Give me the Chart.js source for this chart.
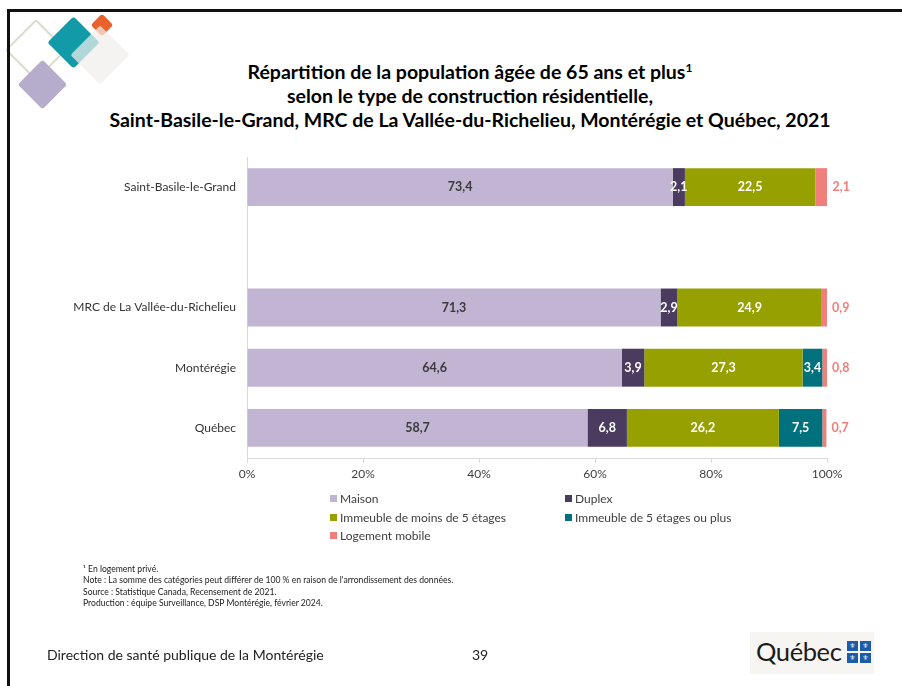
<!DOCTYPE html>
<html lang="fr">
<head>
<meta charset="utf-8">
<title>Répartition de la population âgée de 65 ans et plus selon le type de construction résidentielle</title>
<script src="https://cdn.jsdelivr.net/npm/chart.js@4.4.1/dist/chart.umd.min.js"></script>
<style>
  html, body { margin: 0; padding: 0; background: #fff; }
  #page { position: relative; width: 902px; height: 686px; overflow: hidden; background: #fff; font-family: Lato, "Liberation Sans", sans-serif; }
  #frameTop { position: absolute; left: 7px; top: 9px; width: 900px; height: 3px; background: #111; }
  #frameLeft { position: absolute; left: 7px; top: 9px; width: 3px; height: 690px; background: #111; }
  .sq { position: absolute; transform: rotate(45deg); border-radius: 3px; }
  #chartBox { position: absolute; left: 0; top: 0; width: 902px; height: 686px; }
  #title { position: absolute; left: 0; width: 940px; top: 60px; text-align: center; font-weight: 700; font-size: 19.5px; line-height: 24px; color: #000; }
  #title sup { font-size: 12px; vertical-align: 7px; line-height: 0; }
  #legend { position: absolute; left: 0; top: 0; font-size: 12px; color: #404040; }
  .lg { position: absolute; white-space: nowrap; line-height: 16px; }
  .lg i { display: inline-block; width: 7px; height: 7px; margin-right: 3px; vertical-align: 1px; }
  #notes { position: absolute; left: 83px; top: 564px; font-size: 8.6px; line-height: 11.4px; color: #1a1a1a; }
  #footer { position: absolute; left: 47px; top: 646px; font-size: 14px; color: #222; }
  #pageNo { position: absolute; left: 472px; top: 646px; font-size: 14px; color: #222; }
  #logo { position: absolute; left: 750px; top: 632px; width: 124px; height: 42px; background: #f7f5f2; }
  #logo span.word { position: absolute; left: 6px; top: 4px; font-family: Lato, sans-serif; font-size: 25.5px; color: #1b1b1b; letter-spacing: -0.4px; }
  #logo .flag { position: absolute; left: 97px; top: 9px; width: 24px; height: 23px; }
  #logo .flag b { position: absolute; width: 11px; height: 10px; background: #1d5ca8; color: #fff; font-size: 7px; line-height: 10px; text-align: center; font-weight: normal; font-family: "DejaVu Sans", sans-serif; }
</style>
</head>
<body>
<div id="page">
  <!-- decorative squares, top left -->
  <div class="sq" style="left:14px;top:28px;width:40px;height:40px;border:2px solid #d9dccd;"></div>
  <div class="sq" style="left:25px;top:67px;width:35px;height:35px;background:#b6accb;"></div>
  <div class="sq" style="left:55px;top:24px;width:37px;height:37px;background:#139aa8;"></div>
  <div class="sq" style="left:94px;top:17px;width:16px;height:16px;background:#e8622a;"></div>
  <div class="sq" style="left:79px;top:34px;width:42px;height:42px;background:rgba(240,238,236,0.72);"></div>

  <div id="frameTop"></div>
  <div id="frameLeft"></div>

  <div id="title">Répartition de la population âgée de 65 ans et plus<sup>1</sup><br>selon le type de construction résidentielle,<br>Saint-Basile-le-Grand, MRC de La Vallée-du-Richelieu, Montérégie et Québec, 2021</div>

  <div id="chartBox"><canvas id="chart" width="902" height="686"></canvas></div>

  <div id="legend"></div>

  <div id="notes">
    ¹ En logement privé.<br>
    Note : La somme des catégories peut différer de 100 % en raison de l'arrondissement des données.<br>
    Source : Statistique Canada, Recensement de 2021.<br>
    Production : équipe Surveillance, DSP Montérégie, février 2024.
  </div>

  <div id="footer">Direction de santé publique de la Montérégie</div>
  <div id="pageNo">39</div>

  <div id="logo">
    <span class="word">Québec</span>
    <div class="flag">
      <b style="left:0;top:0;">⚜</b><b style="left:13px;top:0;">⚜</b>
      <b style="left:0;top:12px;">⚜</b><b style="left:13px;top:12px;">⚜</b>
    </div>
  </div>
</div>

<script>
// Territories (the empty entry leaves a gap under the first bar)
const territories = ['Saint-Basile-le-Grand', '', 'MRC de La Vallée-du-Richelieu', 'Montérégie', 'Québec'];

// Share (%) of people aged 65+ by type of dwelling
const seriesNames = ['Maison', 'Duplex', 'Immeuble de moins de 5 étages', 'Immeuble de 5 étages ou plus', 'Logement mobile'];
const maison      = [73.4, null, 71.3, 64.6, 58.7];
const duplex      = [2.1,  null, 2.9,  3.9,  6.8];
const moins5      = [22.5, null, 24.9, 27.3, 26.2];
const cinqPlus    = [null, null, null, 3.4,  7.5];
const mobile      = [2.1,  null, 0.9,  0.8,  0.7];

const xTicks = [0, 20, 40, 60, 80, 100];

const colors = ['#c2b4d3', '#4b3b5f', '#96a000', '#00717d', '#f07f7b'];
const labelColors = ['#3a3a3a', '#ffffff', '#ffffff', '#ffffff', '#f07f7b'];
const FONT = 'Lato, "Liberation Sans", sans-serif';

const seriesValues = [maison, duplex, moins5, cinqPlus, mobile];

// Value labels: centred in each segment, except the last series which sits past the bar end
const valueLabels = {
  id: 'valueLabels',
  afterDatasetsDraw(chart) {
    const ctx = chart.ctx;
    ctx.save();
    ctx.font = 'bold 12.5px ' + FONT;
    ctx.textBaseline = 'middle';
    chart.data.datasets.forEach((ds, di) => {
      const meta = chart.getDatasetMeta(di);
      meta.data.forEach((bar, i) => {
        const v = ds.data[i];
        if (v === null || v === undefined) return;
        const txt = v.toFixed(1).replace('.', ',');
        const p = bar.getProps(['x', 'y', 'base'], true);
        ctx.fillStyle = labelColors[di];
        if (di === seriesValues.length - 1) {
          ctx.textAlign = 'left';
          ctx.fillText(txt, p.x + 5, p.y);
        } else {
          ctx.textAlign = 'center';
          ctx.fillText(txt, (p.x + p.base) / 2, p.y);
        }
      });
    });
    ctx.restore();
  }
};

const chart = new Chart(document.getElementById('chart'), {
  type: 'bar',
  data: {
    labels: territories,
    datasets: seriesNames.map((name, i) => ({
      label: name,
      data: seriesValues[i],
      backgroundColor: colors[i],
      borderWidth: 0,
      categoryPercentage: 1,
      barPercentage: 0.63
    }))
  },
  options: {
    indexAxis: 'y',
    responsive: false,
    animation: false,
    layout: { padding: { left: 0, right: 75, top: 157, bottom: 195 } },
    plugins: {
      legend: { display: false },
      tooltip: { enabled: false },
      title: { display: false }
    },
    scales: {
      x: {
        stacked: true,
        min: 0,
        max: 100,
        afterBuildTicks(scale) { scale.ticks = xTicks.map(v => ({ value: v })); },
        afterFit(scale) { scale.height = 33; },
        grid: { display: true, drawOnChartArea: false, drawTicks: true, tickLength: 5, color: '#d9d9d9' },
        border: { display: true, color: '#d9d9d9', width: 1 },
        ticks: {
          padding: 4,
          color: '#404040',
          font: { family: FONT, size: 12 },
          callback: v => v + '%'
        }
      },
      y: {
        stacked: true,
        afterFit(scale) { scale.width = 247; },
        grid: { display: false, drawTicks: false },
        border: { display: true, color: '#d9d9d9', width: 1 },
        ticks: {
          padding: 11,
          color: '#333333',
          font: { family: FONT, size: 12 }
        }
      }
    }
  },
  plugins: [valueLabels]
});

// Two-column legend below the axis
(function buildLegend() {
  const box = document.getElementById('legend');
  const cols = [330, 565];
  const rows = [491, 510, 528];
  seriesNames.forEach((name, i) => {
    const d = document.createElement('div');
    d.className = 'lg';
    d.style.left = cols[i % 2] + 'px';
    d.style.top = rows[Math.floor(i / 2)] + 'px';
    const sw = document.createElement('i');
    sw.style.background = colors[i];
    d.appendChild(sw);
    d.appendChild(document.createTextNode(name));
    box.appendChild(d);
  });
})();
</script>
</body>
</html>
